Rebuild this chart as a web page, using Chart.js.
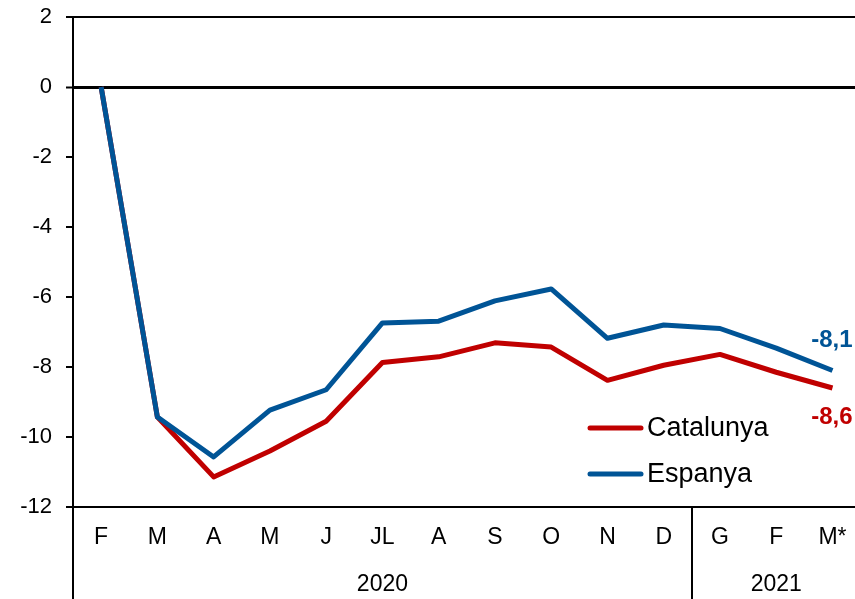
<!DOCTYPE html>
<html lang="ca">
<head>
<meta charset="UTF-8">
<title>Catalunya i Espanya</title>
<script src="https://cdn.jsdelivr.net/npm/chart.js"></script>
<style>
  body { margin: 0; background: #fff; }
  #wrap { width: 855px; height: 599px; position: relative; }
</style>
</head>
<body>
<div id="wrap"><canvas id="chart"></canvas></div>
<script>
    // mesos (eix X) i anys
    var months = ['F', 'M', 'A', 'M', 'J', 'JL', 'A', 'S', 'O', 'N', 'D', 'G', 'F', 'M*'];
    var years = [
        { label: '2020', from: 0, to: 10 },
        { label: '2021', from: 11, to: 13 }
    ];
    var yTicks = [2, 0, -2, -4, -6, -8, -10, -12];

    var catalunya = [0, -9.43, -11.14, -10.4, -9.55, -7.87, -7.71, -7.31, -7.43, -8.38, -7.95, -7.64, -8.15, -8.6];
    var espanya = [0, -9.43, -10.57, -9.23, -8.65, -6.74, -6.69, -6.11, -5.77, -7.18, -6.8, -6.9, -7.46, -8.1];

    var RED = '#C00000';
    var BLUE = '#005496';
    var FONT = '"Liberation Sans", Arial, sans-serif';

    function pts(arr) {
        return arr.map((v, i) => ({ x: i, y: v }));
    }

    // eixos, separadors, llegenda i etiquetes finals
    var extras = {
        id: 'extras',
        afterDraw(chart) {
            var ctx = chart.ctx;
            var area = chart.chartArea;
            var xs = chart.scales.x;
            var H = chart.height;
            ctx.save();
            ctx.strokeStyle = '#000';
            ctx.lineWidth = 2;
            ctx.beginPath();
            ctx.moveTo(area.left, area.top);
            ctx.lineTo(area.left, H);
            // separador entre anys
            years.slice(1).forEach(y => {
                var px = Math.round(xs.getPixelForValue(y.from - 0.5));
                ctx.moveTo(px, area.bottom);
                ctx.lineTo(px, H);
            });
            ctx.stroke();

            // anys
            ctx.fillStyle = '#000';
            ctx.font = '23px ' + FONT;
            ctx.textAlign = 'center';
            ctx.textBaseline = 'middle';
            years.forEach(y => {
                var a = xs.getPixelForValue(y.from - 0.5);
                var b = xs.getPixelForValue(y.to + 0.5);
                ctx.fillText(y.label, (a + b) / 2, 585);
            });

            // llegenda
            var legendY = [428, 474];
            chart.data.datasets.forEach((ds, i) => {
                ctx.strokeStyle = ds.borderColor;
                ctx.lineWidth = 5;
                ctx.lineCap = 'round';
                ctx.beginPath();
                ctx.moveTo(590, legendY[i]);
                ctx.lineTo(641, legendY[i]);
                ctx.stroke();
                ctx.fillStyle = '#000';
                ctx.font = '27px ' + FONT;
                ctx.textAlign = 'left';
                ctx.fillText(ds.label, 647, legendY[i] + 1);
            });

            // valor de l'últim mes
            var offs = [29, -30];
            chart.data.datasets.forEach((ds, i) => {
                var meta = chart.getDatasetMeta(i);
                var last = meta.data[meta.data.length - 1];
                var val = ds.data[ds.data.length - 1].y;
                ctx.fillStyle = ds.borderColor;
                ctx.font = 'bold 24px ' + FONT;
                ctx.textAlign = 'right';
                ctx.fillText(val.toFixed(1).replace('.', ','), last.x + 20, last.y + offs[i]);
            });
            ctx.restore();
        }
    };

    new Chart(document.getElementById('chart'), {
        type: 'line',
        data: {
            datasets: [
                { label: 'Catalunya', data: pts(catalunya), borderColor: RED, backgroundColor: RED, order: 1 },
                { label: 'Espanya', data: pts(espanya), borderColor: BLUE, backgroundColor: BLUE, order: 0 }
            ]
        },
        options: {
            responsive: true,
            maintainAspectRatio: false,
            animation: false,
            layout: { padding: { top: 17, right: 0, left: 0, bottom: 0 } },
            elements: {
                line: { borderWidth: 5, tension: 0, borderJoinStyle: 'round' },
                point: { radius: 0, hoverRadius: 0 }
            },
            plugins: {
                legend: { display: false },
                tooltip: { enabled: false }
            },
            scales: {
                x: {
                    type: 'linear',
                    min: -0.5,
                    max: 13.4,
                    grid: { display: false, drawTicks: false, tickLength: 0 },
                    border: { display: false },
                    afterBuildTicks: s => { s.ticks = months.map((m, i) => ({ value: i })); },
                    afterFit: s => { s.height = 92; s.paddingLeft = 0; s.paddingRight = 0; },
                    ticks: {
                        autoSkip: false,
                        maxRotation: 0,
                        padding: 17,
                        color: '#000',
                        font: { family: FONT, size: 23 },
                        callback: v => months[v]
                    }
                },
                y: {
                    min: -12,
                    max: 2,
                    afterBuildTicks: s => { s.ticks = yTicks.map(v => ({ value: v })); },
                    afterFit: s => { s.width = 73; s.paddingTop = 0; s.paddingBottom = 0; },
                    border: { display: false },
                    grid: {
                        color: c => (c.tick && [2, 0, -12].includes(c.tick.value)) ? '#000' : 'rgba(0,0,0,0)',
                        lineWidth: c => (c.tick && c.tick.value === 0) ? 3 : 2,
                        tickColor: '#000',
                        tickWidth: 2,
                        tickLength: 7
                    },
                    ticks: {
                        padding: 14,
                        color: '#000',
                        font: { family: FONT, size: 22 }
                    }
                }
            }
        },
        plugins: [extras]
    });
</script>
</body>
</html>
